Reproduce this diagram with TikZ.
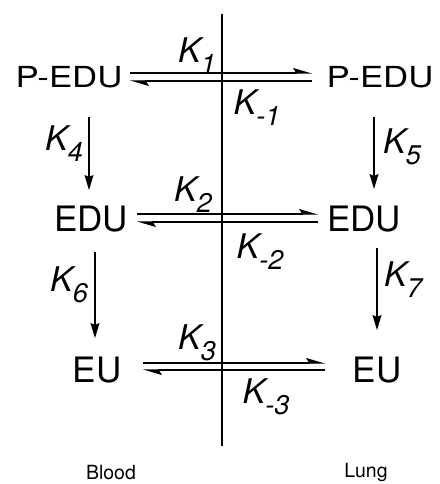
\documentclass[tikz,border=0pt]{standalone}
\usepackage{fontspec}
\usepackage{graphicx}
\setmainfont{TeX Gyre Heros}
\usetikzlibrary{arrows.meta}
\tikzset{
  species/.style={font=\fontsize{35}{37}\selectfont, inner sep=0pt},
  pspecies/.style={font=\fontsize{29}{31}\selectfont, inner sep=0pt},
  rate/.style={font=\fontsize{34}{36}\selectfont\itshape, inner sep=0pt},
  site/.style={font=\fontsize{19.5}{21}\selectfont, inner sep=0pt},
  flux/.style={line width=1.1pt, -{Stealth[left,length=17pt,width=10pt,inset=3pt]}},
  down/.style={line width=1.1pt, -{Stealth[length=15pt,width=9pt,inset=2pt]}},
  wall/.style={line width=1.1pt}
}
\newcommand{\rk}[1]{K\raisebox{-11pt}{\fontsize{27}{27}\selectfont #1}}
\begin{document}
\begin{tikzpicture}[x=1pt,y=-1pt]
\useasboundingbox (0,0) rectangle (439,484);
% membrane
\coordinate (wt) at (222,14);
\coordinate (wb) at (222,446);
\draw[wall] (wt) -- (wb);
% species
\node[pspecies] (pb) at (69,77) {\scalebox{1.2}[1]{P-EDU}};
\node[pspecies] (pl) at (380,77) {\scalebox{1.2}[1]{P-EDU}};
\node[species] (eb) at (91,219) {EDU};
\node[species] (el) at (364,219) {EDU};
\node[species] (ub) at (97,370) {EU};
\node[species] (ul) at (377,370) {EU};
% horizontal endpoints
\coordinate (a1s) at (130,73); \coordinate (a1e) at (312,73);
\coordinate (b1s) at (312,81); \coordinate (b1e) at (130,81);
\coordinate (a2s) at (137,214); \coordinate (a2e) at (318,214);
\coordinate (b2s) at (318,222); \coordinate (b2e) at (137,222);
\coordinate (a3s) at (143,363); \coordinate (a3e) at (325,363);
\coordinate (b3s) at (325,370); \coordinate (b3e) at (143,370);
\draw[flux] (a1s) -- (a1e);
\draw[flux] (b1s) -- (b1e);
\draw[flux] (a2s) -- (a2e);
\draw[flux] (b2s) -- (b2e);
\draw[flux] (a3s) -- (a3e);
\draw[flux] (b3s) -- (b3e);
% vertical endpoints
\coordinate (k4s) at (89,117); \coordinate (k4e) at (89,190);
\coordinate (k5s) at (374,117); \coordinate (k5e) at (374,189);
\coordinate (k6s) at (95,252); \coordinate (k6e) at (95,338);
\coordinate (k7s) at (377,248); \coordinate (k7e) at (377,330);
\draw[down] (k4s) -- (k4e);
\draw[down] (k5s) -- (k5e);
\draw[down] (k6s) -- (k6e);
\draw[down] (k7s) -- (k7e);
% rate labels
\node[rate] (r1) at (197,56) {\rk{1}};
\node[rate] (rm1) at (257,108) {\rk{-1}};
\node[rate] (r4) at (64,144) {\rk{4}};
\node[rate] (r5) at (402,147) {\rk{5}};
\node[rate] (r2) at (193,195) {\rk{2}};
\node[rate] (rm2) at (260,252) {\rk{-2}};
\node[rate] (r6) at (69,285) {\rk{6}};
\node[rate] (r7) at (403,280) {\rk{7}};
\node[rate] (r3) at (197,343) {\rk{3}};
\node[rate] (rm3) at (266,397) {\rk{-3}};
% compartments
\node[site] (blood) at (111,473) {Blood};
\node[site] (lung) at (366,473) {Lung};
\end{tikzpicture}
\end{document}
